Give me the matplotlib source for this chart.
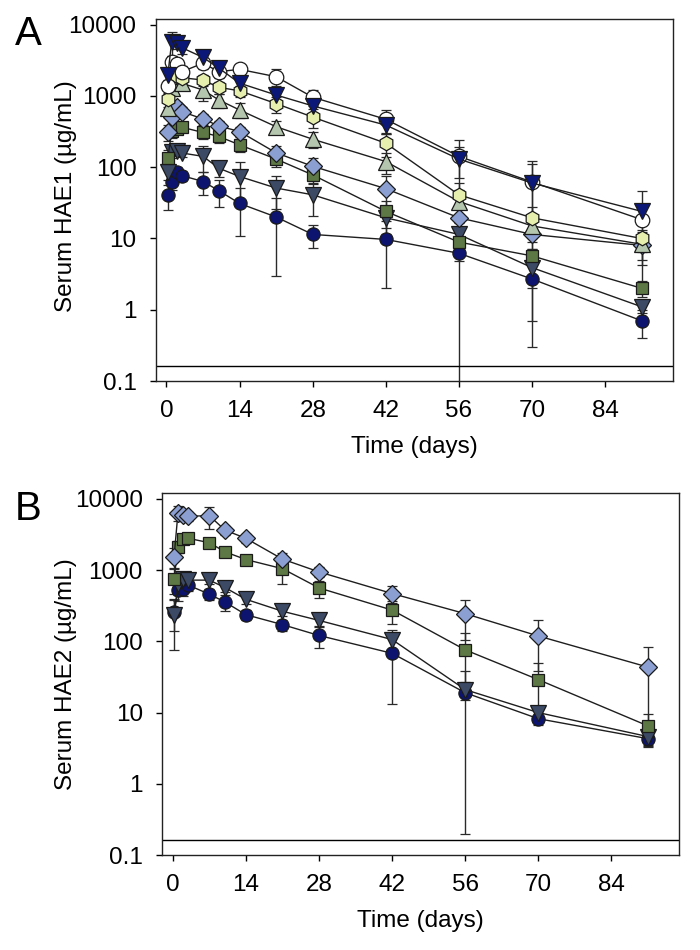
import matplotlib
matplotlib.use("Agg")
import matplotlib.pyplot as plt
from matplotlib.ticker import FixedLocator, FixedFormatter

plt.rcParams['font.family'] = ['Liberation Sans', 'DejaVu Sans']

# sampling times (days)
days = [0.25, 1, 2, 3, 7, 10, 14, 21, 28, 42, 56, 70, 91]

# panel A: serum HAE1 (ug/mL), mean and SD per group
a_circle_navy = [41, 63, 87, 76, 63, 47, 31, 20, 11.4, 9.7, 6.2, 2.7, 0.7]
a_circle_navy_sd = [16, 15, 15, 12, 22, 19, 20, 17, 4, 7.7, 7, 2.4, 0.3]
a_tri_slate = [87, 166, 170, 158, 142, 97, 74, 51, 41, 19.5, 11.4, 3.9, 1.1]
a_tri_slate_sd = [20, 30, 25, 20, 55, 25, 45, 25, 20, 8, 5, 3.2, 0.2]
a_square = [134, 317, 340, 363, 307, 270, 206, 130, 78, 24, 8.9, 5.7, 2.0]
a_square_sd = [40, 60, 50, 50, 60, 50, 40, 30, 20, 10, 4, 1.5, 0.5]
a_diamond = [316, 500, 705, 600, 475, 380, 316, 159, 103, 50, 19.5, 11.4, 8.0]
a_diamond_sd = [80, 100, 120, 100, 80, 60, 50, 40, 30, 25, 10, 5, 3]
a_tri_grey = [675, 1300, 1580, 1500, 1210, 880, 635, 370, 247, 120, 33, 15, 8.3]
a_tri_grey_sd = [150, 300, 300, 250, 350, 200, 150, 80, 60, 40, 15, 6, 4]
a_hexagon = [895, 1700, 1900, 1800, 1670, 1320, 1180, 780, 505, 217, 41, 19.5, 10]
a_hexagon_sd = [200, 300, 300, 300, 300, 250, 200, 200, 150, 80, 20, 8, 3]
a_circle_white = [1380, 3000, 2800, 2190, 2880, 2190, 2360, 1860, 960, 470, 142, 62, 18.4]
a_circle_white_sd = [300, 600, 500, 400, 500, 400, 300, 500, 240, 165, 100, 60, 12]
a_tri_navy = [1950, 5770, 5500, 4730, 3470, 2460, 1510, 1030, 725, 390, 130, 60, 24]
a_tri_navy_sd = [500, 2100, 1000, 800, 600, 500, 300, 200, 150, 100, 60, 50, 22]

# panel B: serum HAE2 (ug/mL)
b_circle_navy = [259, 523, 550, 615, 460, 357, 237, 172, 121, 68, 19, 8.2, 4.3]
b_circle_navy_sd = [120, 150, 120, 100, 80, 90, 40, 30, 40, 55, 18.8, 1.5, 0.6]
b_tri_slate = [232, 650, 740, 725, 725, 570, 390, 265, 197, 106, 21, 10, 4.6]
b_tri_slate_sd = [157, 200, 150, 150, 80, 70, 60, 40, 30, 40, 6, 2, 1.2]
b_square = [760, 2130, 2700, 2800, 2430, 1810, 1410, 1050, 563, 275, 76, 29, 6.5]
b_square_sd = [300, 400, 300, 300, 300, 250, 200, 400, 150, 100, 55, 20, 3.2]
b_diamond = [1540, 6450, 5900, 5730, 5820, 3650, 2800, 1430, 946, 470, 245, 119, 43.5]
b_diamond_sd = [500, 1500, 1000, 800, 2000, 500, 400, 300, 150, 120, 140, 80, 40]

y_ticks = [0.1, 1, 10, 100, 1000, 10000]
y_ticklabels = ['0.1', '1', '10', '100', '1000', '10000']
x_ticks = [0, 14, 28, 42, 56, 70, 84]
lloq = 0.16

styles = {
    'circle_navy': dict(marker='o', ms=9.5, mfc='#0c1470'),
    'tri_slate': dict(marker='v', ms=11, mfc='#3c4a66'),
    'square': dict(marker='s', ms=9, mfc='#5e7845'),
    'diamond': dict(marker='D', ms=9, mfc='#8c9fd2'),
    'tri_grey': dict(marker='^', ms=11, mfc='#b4c6ae'),
    'hexagon': dict(marker='h', ms=10.5, mfc='#e6efae'),
    'circle_white': dict(marker='o', ms=10.5, mfc='white'),
    'tri_navy': dict(marker='v', ms=11, mfc='#0c1878'),
}


def draw(ax, y, sd, key):
    st = styles[key]
    ax.errorbar(days, y, yerr=sd, color='#1e1e1e', lw=1.0, ecolor='#2a2a2a',
                elinewidth=1.0, capsize=3.8, capthick=1.0, mec='#1a1a1a',
                mew=0.9, **st)


def style_axes(ax, ylabel):
    ax.set_yscale('log')
    ax.set_ylim(0.1, 12000)
    ax.set_xlim(-2, 97)
    ax.axhline(lloq, color='black', lw=1.0)
    ax.yaxis.set_major_locator(FixedLocator(y_ticks))
    ax.yaxis.set_major_formatter(FixedFormatter(y_ticklabels))
    ax.yaxis.set_minor_locator(FixedLocator([]))
    ax.set_xticks(x_ticks)
    ax.tick_params(direction='out', length=4.5, width=1.0, pad=9.5,
                   labelsize=17.5, top=False, right=False)
    for s in ax.spines.values():
        s.set_linewidth(1.0)
        s.set_color('#222222')
    ax.set_xlabel('Time (days)', fontsize=17.5, labelpad=10)
    ax.set_ylabel(ylabel, fontsize=17.5)


fig = plt.figure(figsize=(7, 9.5), dpi=100)
axA = fig.add_axes([0.2229, 0.5989, 0.7386, 0.3811])
axB = fig.add_axes([0.2319, 0.1, 0.7386, 0.3807])

draw(axA, a_circle_navy, a_circle_navy_sd, 'circle_navy')
draw(axA, a_tri_slate, a_tri_slate_sd, 'tri_slate')
draw(axA, a_square, a_square_sd, 'square')
draw(axA, a_diamond, a_diamond_sd, 'diamond')
draw(axA, a_tri_grey, a_tri_grey_sd, 'tri_grey')
draw(axA, a_hexagon, a_hexagon_sd, 'hexagon')
draw(axA, a_circle_white, a_circle_white_sd, 'circle_white')
draw(axA, a_tri_navy, a_tri_navy_sd, 'tri_navy')
style_axes(axA, 'Serum HAE1 (µg/mL)')
axA.yaxis.set_label_coords(-0.153, 0.51)

draw(axB, b_circle_navy, b_circle_navy_sd, 'circle_navy')
draw(axB, b_tri_slate, b_tri_slate_sd, 'tri_slate')
draw(axB, b_square, b_square_sd, 'square')
draw(axB, b_diamond, b_diamond_sd, 'diamond')
style_axes(axB, 'Serum HAE2 (µg/mL)')
axB.yaxis.set_label_coords(-0.165, 0.5)

fig.text(0.021, 0.9526, 'A', fontsize=29, va='baseline')
fig.text(0.021, 0.4526, 'B', fontsize=29, va='baseline')

fig.savefig('out.png', dpi=100)
